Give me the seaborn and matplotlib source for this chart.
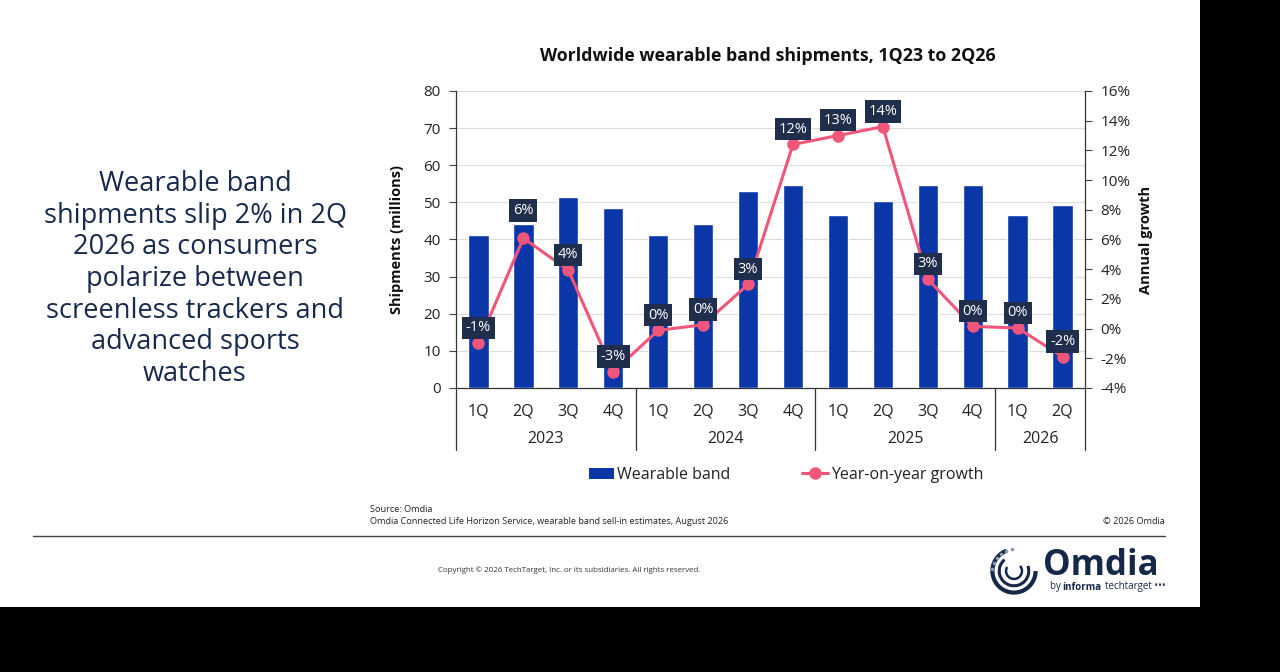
import matplotlib
matplotlib.use("Agg")
import matplotlib.pyplot as plt
import matplotlib.patches as mpatches
from matplotlib.lines import Line2D
import numpy as np
import pandas as pd
import seaborn as sns

# ---------------- data ----------------
quarters = ["1Q", "2Q", "3Q", "4Q", "1Q", "2Q", "3Q", "4Q", "1Q", "2Q", "3Q", "4Q", "1Q", "2Q"]
years = ["2023", "2024", "2025", "2026"]
year_counts = [4, 4, 4, 2]
shipments = [41.3, 44.2, 51.4, 48.5, 41.3, 44.2, 53.0, 54.6, 46.6, 50.4, 54.6, 54.6, 46.6, 49.2]
growth = [-0.97, 6.09, 3.94, -2.9, -0.12, 0.26, 2.97, 12.4, 13.0, 13.6, 3.33, 0.15, 0.04, -1.89]
growth_labels = ["-1%", "6%", "4%", "-3%", "0%", "0%", "3%", "12%", "13%", "14%", "3%", "0%", "0%", "-2%"]
left_ticks = [0, 10, 20, 30, 40, 50, 60, 70, 80]
right_ticks = [-4, -2, 0, 2, 4, 6, 8, 10, 12, 14, 16]

BAR = "#0a36a8"
PINK = "#f0557a"
NAVY = "#1f2e4c"
TEXTNAVY = "#17294d"

sns.set_theme(style="white")
plt.rcParams["font.family"] = ["Open Sans", "DejaVu Sans"]

W, H = 1280, 672
fig = plt.figure(figsize=(W / 100, H / 100), dpi=100, facecolor="black")
# white slide area
fig.patches.append(mpatches.Rectangle((0, 1 - 607 / H), 1200 / W, 607 / H,
                                      transform=fig.transFigure, facecolor="white",
                                      edgecolor="none", zorder=-10))

def fx(px):
    return px / W

def fy(py):
    return 1 - py / H

ax = fig.add_axes([fx(456), fy(388), fx(1085) - fx(456), fy(91) - fy(388)])
ax.set_facecolor("white")

df = pd.DataFrame({"pos": np.arange(len(quarters)), "shipments": shipments, "growth": growth})

sns.barplot(data=df, x="pos", y="shipments", color=BAR, width=0.45, ax=ax,
            saturation=1, zorder=3)
ax.set_xlim(-0.5, len(quarters) - 0.5)
ax.set_ylim(0, 80)
ax.set_yticks(left_ticks)
ax.set_yticklabels([str(t) for t in left_ticks], fontsize=11, color="#222222")
ax.set_xticks(df["pos"])
ax.set_xticklabels(quarters, fontsize=11.5, color="#222222")
ax.tick_params(axis="x", length=0, pad=11)
ax.tick_params(axis="y", length=5, width=0.8, color="#444444", pad=6, left=True)
ax.yaxis.grid(True, color="#dcdcdc", linewidth=0.8, zorder=0)
ax.set_axisbelow(True)
for s in ["top", "right"]:
    ax.spines[s].set_visible(False)
ax.spines["left"].set_color("#333333")
ax.spines["bottom"].set_color("#333333")
ax.spines["left"].set_linewidth(0.9)
ax.spines["bottom"].set_linewidth(0.9)
ax.set_xlabel("")
ax.set_ylabel("Shipments (millions)", fontsize=10.5, fontweight="bold", color="#111111", labelpad=14)

ax2 = ax.twinx()
sns.lineplot(data=df, x="pos", y="growth", color=PINK, linewidth=2.2, marker="o",
             markersize=9, markeredgewidth=0, ax=ax2, zorder=5)
ax2.set_ylim(-4, 16)
ax2.set_yticks(right_ticks)
ax2.set_yticklabels([f"{t}%" for t in right_ticks], fontsize=11, color="#222222")
ax2.tick_params(axis="y", length=5, width=0.8, color="#444444", pad=6, right=True)
for s in ["top", "left", "bottom"]:
    ax2.spines[s].set_visible(False)
ax2.spines["right"].set_color("#333333")
ax2.spines["right"].set_linewidth(0.9)
ax2.set_ylabel("Annual growth", fontsize=10.5, fontweight="bold", color="#111111", labelpad=6)
ax2.grid(False)
ax2.set_xlabel("")

for i, (g, lab) in enumerate(zip(growth, growth_labels)):
    off = 20 if i == 1 else 11
    ax2.annotate(lab, (i, g), xytext=(0, off), textcoords="offset points",
                 ha="center", va="center", fontsize=10.5, color="white", zorder=6,
                 bbox=dict(boxstyle="square,pad=0.25", facecolor=NAVY, edgecolor="none"))

# two-level category axis: separators & year labels
trans = matplotlib.transforms.blended_transform_factory(ax.transData, fig.transFigure)
edges = [-0.5]
for c in year_counts:
    edges.append(edges[-1] + c)
for e in edges:
    fig.lines.append(Line2D([e, e], [fy(388), fy(450)], transform=trans, color="#333333",
                            linewidth=0.9))
for k, yr in enumerate(years):
    mid = (edges[k] + edges[k + 1]) / 2
    ax.text(mid, fy(439), yr, transform=trans, ha="center", va="center",
            fontsize=11.5, color="#222222")

# title
fig.text(fx(768), fy(56), "Worldwide wearable band shipments, 1Q23 to 2Q26",
         ha="center", va="center", fontsize=12.8, fontweight="bold", color="#111111")

# legend
handles = [mpatches.Patch(facecolor=BAR, edgecolor="none", label="Wearable band"),
           Line2D([0], [0], color=PINK, linewidth=2.2, marker="o", markersize=9,
                  markeredgewidth=0, label="Year-on-year growth")]
fig.legend(handles=handles, loc="center", bbox_to_anchor=(fx(786), fy(475)), ncol=2,
           frameon=False, fontsize=11.5, columnspacing=4.5, handlelength=1.6,
           handletextpad=0.2, labelcolor="#222222")

# left headline
fig.text(fx(195), fy(279),
         "Wearable band\nshipments slip 2% in 2Q\n2026 as consumers\npolarize between\n"
         "screenless trackers and\nadvanced sports\nwatches",
         ha="center", va="center", fontsize=19.5, color=TEXTNAVY, linespacing=1.17)

# footer
fig.text(fx(370), fy(510), "Source: Omdia", ha="left", va="center", fontsize=6.6, color="#222222")
fig.text(fx(370), fy(521),
         "Omdia Connected Life Horizon Service, wearable band sell-in estimates, August 2026",
         ha="left", va="center", fontsize=6.6, color="#222222")
fig.text(fx(1165), fy(521), "© 2026 Omdia", ha="right", va="center", fontsize=6.6, color="#222222")
fig.lines.append(Line2D([fx(33), fx(1165)], [fy(536), fy(536)], transform=fig.transFigure,
                        color="#444444", linewidth=1.0))
fig.text(fx(569), fy(570),
         "Copyright © 2026 TechTarget, Inc. or its subsidiaries. All rights reserved.",
         ha="center", va="center", fontsize=5.7, color="#333333")

# logo
lax = fig.add_axes([fx(988), fy(596), fx(1040) - fx(988), fy(546) - fy(596)])
lax.set_xlim(-1.1, 1.1)
lax.set_ylim(-1.1, 1.1)
lax.set_aspect("equal")
lax.axis("off")
lax.add_patch(mpatches.Arc((0, 0), 1.9, 1.9, theta1=110, theta2=360, color="#16284a", lw=3))
lax.add_patch(mpatches.Arc((0, 0), 1.3, 1.3, theta1=130, theta2=380, color="#16284a", lw=2.2))
lax.add_patch(mpatches.Arc((0, 0), 0.7, 0.7, theta1=150, theta2=400, color="#16284a", lw=1.8))
for a in np.linspace(95, 175, 6):
    r = 0.95
    lax.plot(r * np.cos(np.radians(a)), r * np.sin(np.radians(a)), "o", color="#8899b0", ms=1.6)
fig.text(fx(1043), fy(566), "Omdia", ha="left", va="center", fontsize=25, fontweight="bold",
         color="#16284a")
fig.text(fx(1050), fy(587), "by ", ha="left", va="center", fontsize=7, color="#16284a")
fig.text(fx(1062), fy(587), "informa", ha="left", va="center", fontsize=7, fontweight="bold",
         color="#16284a")
fig.text(fx(1105), fy(587), "techtarget •••", ha="left", va="center", fontsize=7,
         color="#16284a")

fig.savefig("out.png", dpi=100, facecolor="black")
